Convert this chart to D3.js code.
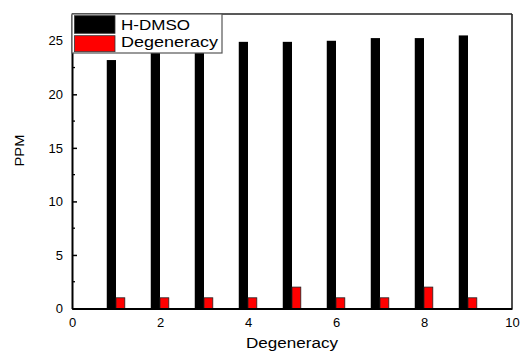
<!DOCTYPE html>
<html>
<head>
<meta charset="utf-8">
<script src="https://cdn.jsdelivr.net/npm/d3@7"></script>
<style>
  html, body { margin: 0; padding: 0; background: #fff; }
  svg { display: block; font-family: "Liberation Sans", Arial, sans-serif; }
</style>
</head>
<body>
<svg id="chart" width="520" height="351"></svg>
<script>
const categories = [1, 2, 3, 4, 5, 6, 7, 8, 9];
const hdmsoValues = [23.2, 24.0, 24.5, 24.9, 24.9, 25.0, 25.25, 25.25, 25.5];
const degeneracyValues = [1, 1, 1, 1, 2, 1, 1, 2, 1];
const xTicks = [0, 2, 4, 6, 8, 10];
const yTicks = [0, 5, 10, 15, 20, 25];
const yMinorTicks = [2.5, 7.5, 12.5, 17.5, 22.5];
const seriesNames = ["H-DMSO", "Degeneracy"];
const seriesColors = ["#000000", "#ff0000"];

const svg = d3.select("#chart");
const pL = 72, pR = 512, pT = 14, pB = 308.5;
const x = d3.scaleLinear().domain([0, 10]).range([pL, pR]);
const y = d3.scaleLinear().domain([0, 27.5]).range([pB, pT]);
const bw = 0.2;

// bars
svg.append("g").selectAll("rect").data(categories).join("rect")
  .attr("x", (d) => x(d - bw - 0.01))
  .attr("width", (d) => x(d) - x(d - bw - 0.01))
  .attr("y", (d, i) => y(hdmsoValues[i]))
  .attr("height", (d, i) => y(0) - y(hdmsoValues[i]))
  .attr("fill", seriesColors[0]);

svg.append("g").selectAll("rect").data(categories).join("rect")
  .attr("x", (d) => x(d))
  .attr("width", (d) => x(d + bw) - x(d))
  .attr("y", (d, i) => y(degeneracyValues[i]))
  .attr("height", (d, i) => y(0) - y(degeneracyValues[i]))
  .attr("fill", seriesColors[1])
  .attr("stroke", "#222").attr("stroke-width", 0.8);

// frame top/right
svg.append("line").attr("x1", pL).attr("x2", pR).attr("y1", pT).attr("y2", pT)
  .attr("stroke", "#222").attr("stroke-width", 1.6);
svg.append("line").attr("x1", pR).attr("x2", pR).attr("y1", pT).attr("y2", pB)
  .attr("stroke", "#222").attr("stroke-width", 1.6);

// y axis
const yAxis = d3.axisLeft(y).tickValues(yTicks).tickSize(-5).tickPadding(9).tickSizeOuter(0);
const gy = svg.append("g").attr("transform", `translate(${pL},0)`).call(yAxis);
gy.select(".domain").attr("stroke", "#000").attr("stroke-width", 2);
gy.selectAll(".tick line").attr("stroke", "#000").attr("stroke-width", 1.5);
gy.selectAll(".tick text").attr("font-size", 13).attr("fill", "#000")
  .attr("font-family", "Liberation Sans, Arial, sans-serif");
svg.append("g").selectAll("line").data(yMinorTicks).join("line")
  .attr("x1", pL).attr("x2", pL + 3).attr("y1", (d) => y(d)).attr("y2", (d) => y(d))
  .attr("stroke", "#000").attr("stroke-width", 1.3);

// x axis
const xAxis = d3.axisBottom(x).tickValues(xTicks).tickSize(0).tickPadding(9).tickSizeOuter(0);
const gx = svg.append("g").attr("transform", `translate(0,${pB})`).call(xAxis);
gx.select(".domain").attr("stroke", "#000").attr("stroke-width", 2);
gx.selectAll(".tick text").attr("font-size", 13).attr("fill", "#000")
  .attr("font-family", "Liberation Sans, Arial, sans-serif");

// axis titles
svg.append("text").attr("x", (pL + pR) / 2).attr("y", 348)
  .attr("text-anchor", "middle").attr("font-size", 15.5)
  .attr("textLength", 92).attr("lengthAdjust", "spacingAndGlyphs")
  .text("Degeneracy");
svg.append("text").attr("transform", "translate(23.5,150.5) rotate(-90)")
  .attr("text-anchor", "middle").attr("font-size", 13.5)
  .attr("textLength", 32).attr("lengthAdjust", "spacingAndGlyphs")
  .text("PPM");

// legend
const lg = svg.append("g");
lg.append("rect").attr("x", 72).attr("y", 14).attr("width", 150).attr("height", 39)
  .attr("fill", "#fff").attr("stroke", "#555").attr("stroke-width", 1.2);
const rows = [
  { name: seriesNames[0], color: seriesColors[0], y0: 15.7, y1: 33.3, base: 29.5, len: 69 },
  { name: seriesNames[1], color: seriesColors[1], y0: 35.7, y1: 51.7, base: 47, len: 97 }
];
rows.forEach((r) => {
  lg.append("rect").attr("x", 74.5).attr("y", r.y0).attr("width", 40.5).attr("height", r.y1 - r.y0)
    .attr("fill", r.color).attr("stroke", "#333").attr("stroke-width", 0.8);
  lg.append("text").attr("x", 121).attr("y", r.base).attr("font-size", 14.5)
    .attr("textLength", r.len).attr("lengthAdjust", "spacingAndGlyphs")
    .text(r.name);
});
</script>
</body>
</html>
